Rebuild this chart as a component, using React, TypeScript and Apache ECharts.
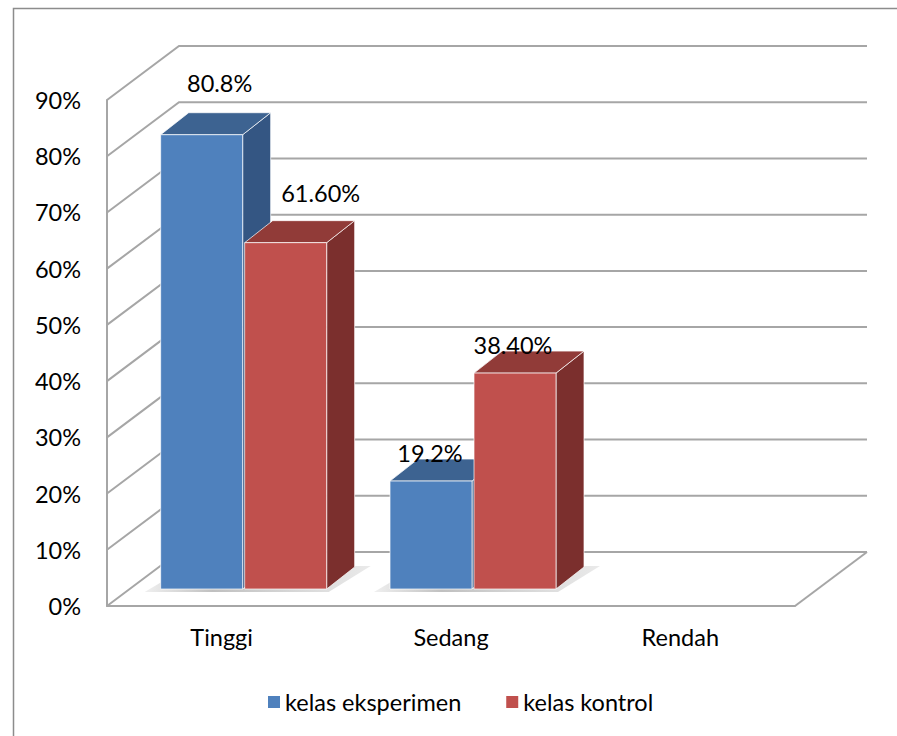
import React, { useEffect, useRef } from "react";
import * as echarts from "echarts";

const categories = ["Tinggi", "Sedang", "Rendah"];
const seriesNames = ["kelas eksperimen", "kelas kontrol"];
const eksperimen = [80.8, 19.2, 0];
const kontrol = [61.6, 38.4, 0];
const eksperimenLabels = ["80.8%", "19.2%", ""];
const kontrolLabels = ["61.60%", "38.40%", ""];
const yTicks = [0, 10, 20, 30, 40, 50, 60, 70, 80, 90];

// 3D geometry (pixels)
const DX = 72; // full floor depth, x
const DY = -54; // full floor depth, y
const FX = 22; // bar front face offset from front plane
const FY = -17;
const BDX = 28; // bar depth
const BDY = -22;
const BAR_W = 82;

const FONT = "Lato, 'Noto Sans', sans-serif";
const FS = 23.5;
const GRID_COLOR = "#a6a6a6";

const palette = [
  { front: "#4f81bd", top: "#3d6391", side: "#345683" },
  { front: "#c0504d", top: "#913b38", side: "#7b2f2d" },
];
const labelShift = [
  [[18, -52], [-1, -28], [0, 0]],
  [[35, -50], [-2, -28], [0, 0]],
];

export default function App() {
  const ref = useRef<HTMLDivElement>(null);
  useEffect(() => {
    if (!ref.current) return;
    const chart = echarts.init(ref.current, null, { renderer: "svg" });

    const wallItem = (params: any, api: any) => {
      const cs = params.coordSys;
      const v = api.value(1);
      const yf = api.coord([0, v])[1];
      const xl = cs.x;
      const xr = cs.x + cs.width;
      const style = { stroke: GRID_COLOR, lineWidth: 2, fill: null };
      const children: any[] = [
        {
          type: "polyline",
          shape: { points: [[xl, yf], [xl + DX, yf + DY], [xr + DX, yf + DY]] },
          style,
        },
      ];
      if (v === 0) {
        children.push({
          type: "line",
          shape: { x1: xr, y1: yf, x2: xr + DX, y2: yf + DY },
          style,
        });
      }
      return { type: "group", children };
    };

    const shadowItem = (params: any, api: any) => {
      const i = api.value(0);
      if (!api.value(1) && !api.value(2)) return { type: "group", children: [] };
      const p = api.coord([i, 0]);
      const x0 = p[0] + FX - BAR_W - 1;
      const x1 = p[0] + FX + 1 + BAR_W;
      const yb = p[1] + FY;
      return {
        type: "polygon",
        shape: {
          points: [
            [x0 - 16, yb + 3],
            [x1 + 2, yb + 3],
            [x1 + BDX + 16, yb + BDY - 1],
            [x0 + BDX, yb + BDY - 1],
          ],
        },
        style: {
          fill: new echarts.graphic.LinearGradient(0, 0, 1, 0, [
            { offset: 0, color: "rgba(150,150,150,0.15)" },
            { offset: 0.3, color: "rgba(140,140,140,0.55)" },
            { offset: 1, color: "rgba(150,150,150,0.2)" },
          ]),
        },
      };
    };

    const barItem = (s: number, labels: string[]) => (params: any, api: any) => {
      const i = api.value(0);
      const v = api.value(1);
      if (!v) return { type: "group", children: [] };
      const top = api.coord([i, v]);
      const base = api.coord([i, 0]);
      const x0 = top[0] + FX + (s === 0 ? -BAR_W - 1 : 1);
      const x1 = x0 + BAR_W;
      const yt = top[1] + FY;
      const yb = base[1] + FY;
      const c = palette[s];
      const edge = "rgba(255,255,255,0.7)";
      const sh = labelShift[s][i];
      return {
        type: "group",
        children: [
          {
            type: "polygon",
            shape: { points: [[x1, yt], [x1 + BDX, yt + BDY], [x1 + BDX, yb + BDY], [x1, yb]] },
            style: { fill: c.side, stroke: edge, lineWidth: 1 },
          },
          {
            type: "polygon",
            shape: { points: [[x0, yt], [x1, yt], [x1 + BDX, yt + BDY], [x0 + BDX, yt + BDY]] },
            style: { fill: c.top, stroke: edge, lineWidth: 1 },
          },
          {
            type: "rect",
            shape: { x: x0, y: yt, width: BAR_W, height: yb - yt },
            style: { fill: c.front, stroke: edge, lineWidth: 1 },
          },
          {
            type: "text",
            x: (x0 + x1) / 2 + sh[0],
            y: yt + sh[1],
            style: {
              text: labels[i],
              fill: "#000",
              font: `${FS}px ${FONT}`,
              align: "center",
              verticalAlign: "middle",
            },
          },
        ],
      };
    };

    chart.setOption({
      animation: false,
      graphic: [
        {
          type: "rect",
          left: 11,
          top: 6,
          shape: { width: 1000, height: 1000 },
          style: { fill: "none", stroke: "#8c8c8c", lineWidth: 1.5 },
          silent: true,
        },
      ],
      grid: { left: 107, right: 102, top: 100, bottom: 130 },
      xAxis: {
        type: "category",
        data: categories,
        axisLine: { show: true, lineStyle: { color: GRID_COLOR, width: 2 } },
        axisTick: { show: false },
        axisLabel: { color: "#000", fontSize: FS, fontFamily: FONT, margin: 19 },
        splitLine: { show: false },
      },
      yAxis: {
        type: "value",
        min: 0,
        max: 90,
        interval: 10,
        axisLine: { show: true, lineStyle: { color: GRID_COLOR, width: 2 } },
        axisTick: { show: false },
        axisLabel: { color: "#000", fontSize: FS, fontFamily: FONT, margin: 26, formatter: "{value}%" },
        splitLine: { show: false },
      },
      legend: {
        data: seriesNames,
        left: 263,
        top: 685,
        icon: "rect",
        itemWidth: 12,
        itemHeight: 12,
        itemGap: 45,
        textStyle: { color: "#000", fontSize: FS, fontFamily: FONT },
      },
      series: [
        {
          type: "custom",
          name: "walls",
          silent: true,
          renderItem: wallItem,
          data: yTicks.map((t) => [0, t]),
          encode: { x: 0, y: 1 },
          z: 1,
        },
        {
          type: "custom",
          name: "shadows",
          silent: true,
          renderItem: shadowItem,
          data: categories.map((_, i) => [i, eksperimen[i], kontrol[i]]),
          encode: { x: 0, y: 1 },
          z: 2,
        },
        {
          type: "custom",
          name: seriesNames[0],
          renderItem: barItem(0, eksperimenLabels),
          data: eksperimen.map((v, i) => [i, v]),
          encode: { x: 0, y: 1 },
          itemStyle: { color: palette[0].front },
          z: 3,
        },
        {
          type: "custom",
          name: seriesNames[1],
          renderItem: barItem(1, kontrolLabels),
          data: kontrol.map((v, i) => [i, v]),
          encode: { x: 0, y: 1 },
          itemStyle: { color: palette[1].front },
          z: 4,
        },
      ],
    });
    return () => chart.dispose();
  }, []);
  return (
    <div
      ref={ref}
      style={{ position: "fixed", left: 0, top: 0, width: 897, height: 736, background: "#fff" }}
    />
  );
}
